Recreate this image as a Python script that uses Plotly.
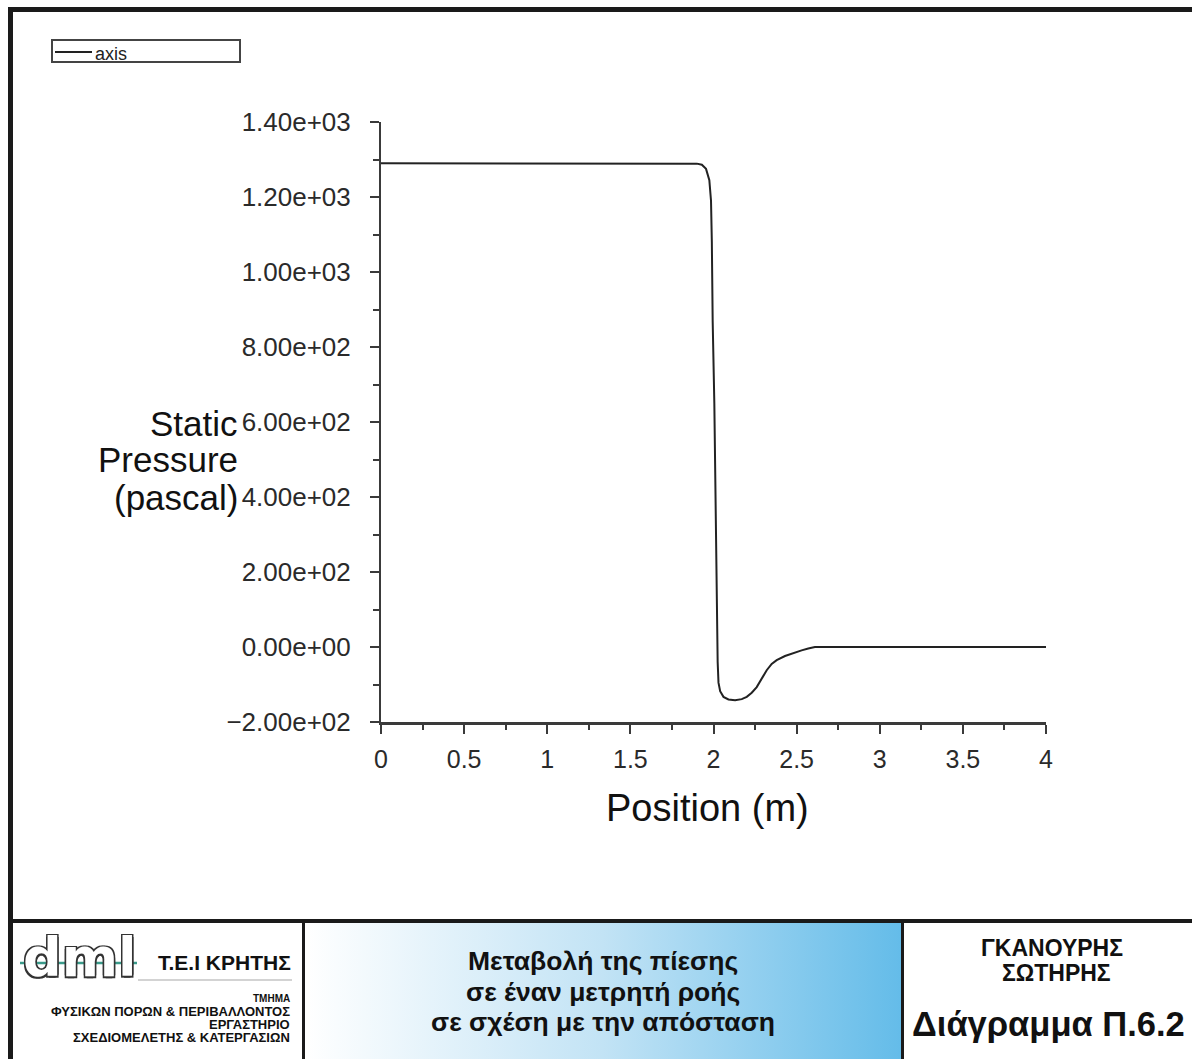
import plotly.graph_objects as go
import base64

W, H = 1192, 1059
def px(x): return x / W
def py(y): return 1 - y / H

# ---------------- data ----------------
position = [0.0, 1.0, 1.85, 1.90, 1.93, 1.955, 1.975, 1.985, 1.99, 1.995, 2.005, 2.012,
            2.018, 2.025, 2.03, 2.04, 2.06, 2.09, 2.13, 2.17, 2.20, 2.23, 2.26, 2.29,
            2.32, 2.35, 2.38, 2.43, 2.48, 2.53, 2.57, 2.61, 3.0, 3.5, 4.0]
pressure = [1290, 1290, 1290, 1289, 1286, 1275, 1245, 1190, 1080, 870, 650, 400,
            170, -40, -95, -118, -133, -140, -142, -139, -133, -122, -107, -85,
            -62, -45, -35, -24, -16, -9, -4, 0, 0, 0, 0]
series_name = "axis"

y_tickvals = [-200, 0, 200, 400, 600, 800, 1000, 1200, 1400]
y_ticktext = ["\u22122.00e+02", "0.00e+00", "2.00e+02", "4.00e+02", "6.00e+02",
              "8.00e+02", "1.00e+03", "1.20e+03", "1.40e+03"]
x_tickvals = [0, 0.5, 1, 1.5, 2, 2.5, 3, 3.5, 4]
x_ticktext = ["0", "0.5", "1", "1.5", "2", "2.5", "3", "3.5", "4"]

y_title_lines = ["Static", "Pressure", "(pascal)"]
x_title = "Position (m)"
institution = "Τ.Ε.Ι ΚΡΗΤΗΣ"
dept_lines = ["ΤΜΗΜΑ", "ΦΥΣΙΚΩΝ ΠΟΡΩΝ & ΠΕΡΙΒΑΛΛΟΝΤΟΣ", "ΕΡΓΑΣΤΗΡΙΟ",
              "ΣΧΕΔΙΟΜΕΛΕΤΗΣ & ΚΑΤΕΡΓΑΣΙΩΝ"]
caption_lines = ["Μεταβολή της πίεσης", "σε έναν μετρητή ροής", "σε σχέση με την απόσταση"]
author_lines = ["ΓΚΑΝΟΥΡΗΣ", "ΣΩΤΗΡΗΣ"]
diagram_label = "Διάγραμμα Π.6.2"

FONT = "Liberation Sans, Arial, Helvetica, sans-serif"
AX = "#3a3a3a"
TICKC = "#2a2a2a"

fig = go.Figure()
fig.add_trace(go.Scatter(x=position, y=pressure, mode="lines", name=series_name,
                         line=dict(color="#222222", width=2), showlegend=False))

fig.update_layout(
    width=W, height=H, margin=dict(l=0, r=0, t=0, b=0, pad=0, autoexpand=False),
    paper_bgcolor="white", plot_bgcolor="white",
    font=dict(family=FONT, color="#111111"),
    showlegend=False,
    xaxis=dict(domain=[px(381), px(1046)], range=[0, 4], showgrid=False, zeroline=False,
               showline=True, linecolor=AX, linewidth=2.5,
               tickmode="array", tickvals=x_tickvals, ticktext=x_ticktext,
               ticks="outside", ticklen=9, tickwidth=2, tickcolor=AX,
               tickfont=dict(size=25, family=FONT, color=TICKC),
               ticklabelstandoff=4,
               minor=dict(dtick=0.25, tick0=0, ticks="outside", ticklen=5,
                          tickwidth=2, tickcolor=AX, showgrid=False)),
    yaxis=dict(domain=[py(722), py(122)], range=[-200, 1400], showgrid=False, zeroline=False,
               showline=True, linecolor=AX, linewidth=2,
               tickmode="array", tickvals=y_tickvals, ticktext=y_ticktext,
               ticks="outside", ticklen=9, tickwidth=2, tickcolor=AX,
               tickfont=dict(size=26, family=FONT, color=TICKC),
               ticklabelstandoff=14,
               minor=dict(dtick=100, tick0=0, ticks="outside", ticklen=6,
                          tickwidth=2, tickcolor=AX, showgrid=False)),
)

shapes = []
# outer frame (left + top thick border)
shapes.append(dict(type="line", xref="paper", yref="paper",
                   x0=px(10.5), x1=px(10.5), y0=py(7), y1=py(1070),
                   line=dict(color="#1a1a1a", width=5)))
shapes.append(dict(type="line", xref="paper", yref="paper",
                   x0=px(8), x1=px(1200), y0=py(9.5), y1=py(9.5),
                   line=dict(color="#1a1a1a", width=5)))
# title block horizontal divider
shapes.append(dict(type="line", xref="paper", yref="paper",
                   x0=px(8), x1=px(1200), y0=py(921), y1=py(921),
                   line=dict(color="#1a1a1a", width=4)))
# vertical dividers
for xd in (303.5, 902.5):
    shapes.append(dict(type="line", xref="paper", yref="paper",
                       x0=px(xd), x1=px(xd), y0=py(921), y1=py(1070),
                       line=dict(color="#1a1a1a", width=3)))
# logo underline
shapes.append(dict(type="line", xref="paper", yref="paper",
                   x0=px(138), x1=px(292), y0=py(980), y1=py(980),
                   line=dict(color="#c4c4c4", width=1.5)))
# legend box and its line sample (same style as the trace)
shapes.append(dict(type="rect", xref="paper", yref="paper",
                   x0=px(52), x1=px(240), y0=py(40), y1=py(62),
                   line=dict(color="#444444", width=2), fillcolor="white"))
shapes.append(dict(type="line", xref="paper", yref="paper",
                   x0=px(55), x1=px(92), y0=py(52), y1=py(52),
                   line=dict(color="#222222", width=2)))
fig.update_layout(shapes=shapes)

# gradient in caption box (SVG data image)
svg = ('<svg xmlns="http://www.w3.org/2000/svg" width="600" height="140" preserveAspectRatio="none">'
       '<defs><linearGradient id="g" x1="0" y1="0" x2="1" y2="0">'
       '<stop offset="0" stop-color="#ffffff"/><stop offset="0.5" stop-color="#c2e3f5"/>'
       '<stop offset="1" stop-color="#64bce9"/></linearGradient></defs>'
       '<rect width="600" height="140" fill="url(#g)"/></svg>')
src = "data:image/svg+xml;base64," + base64.b64encode(svg.encode()).decode()
fig.add_layout_image(dict(source=src, xref="paper", yref="paper",
                          x=px(305), y=py(923), sizex=px(901) - px(305),
                          sizey=py(923) - py(1062), xanchor="left", yanchor="top",
                          sizing="stretch", layer="below"))

ann = []
def text(t, x, y, size, xa="center", ya="middle", bold=False, color="#111111", **kw):
    ann.append(dict(text=t, x=px(x), y=py(y), xref="paper", yref="paper",
                    xanchor=xa, yanchor=ya, showarrow=False,
                    font=dict(size=size, family=FONT, color=color,
                              weight="bold" if bold else "normal", **kw)))

# legend label
text(series_name, 93, 54, 18, xa="left", color="#222222")

# axis titles
for t, yy in zip(y_title_lines, [423, 460, 497]):
    text(t, 240, yy, 35, xa="right")
text(x_title, 707, 808, 38)

# logo
ann.append(dict(text="dml", x=px(79), y=py(958), xref="paper", yref="paper",
                xanchor="center", yanchor="middle", showarrow=False,
                font=dict(size=54, family="DejaVu Sans", color="white", weight="bold",
                          shadow="1.5px 1.5px 0 #333, -1.5px -1.5px 0 #333, 1.5px -1.5px 0 #333, -1.5px 1.5px 0 #333")))
text(institution, 293, 962, 21, xa="right", bold=True)
text(dept_lines[0], 292, 998, 10, xa="right", bold=True)
for t, yy in zip(dept_lines[1:], [1011, 1024, 1037]):
    text(t, 292, yy, 13, xa="right", bold=True)

# caption
for t, yy in zip(caption_lines, [961, 992, 1022]):
    text(t, 603, yy, 26.5, bold=True)

# author + label
text(author_lines[0], 1052, 948, 23, bold=True)
text(author_lines[1], 1056, 973, 23, bold=True)
text(diagram_label, 1048, 1024, 34.5, bold=True)

fig.update_layout(annotations=ann)

# green logo stroke on top
fig.add_shape(type="line", xref="paper", yref="paper", x0=px(20), x1=px(137),
              y0=py(963), y1=py(963), line=dict(color="#3a9a8a", width=2.5), layer="above")

fig.write_html("out.html",
               post_script="document.body.style.margin='0';document.body.style.padding='0';"
                           "document.documentElement.style.overflow='hidden';")
